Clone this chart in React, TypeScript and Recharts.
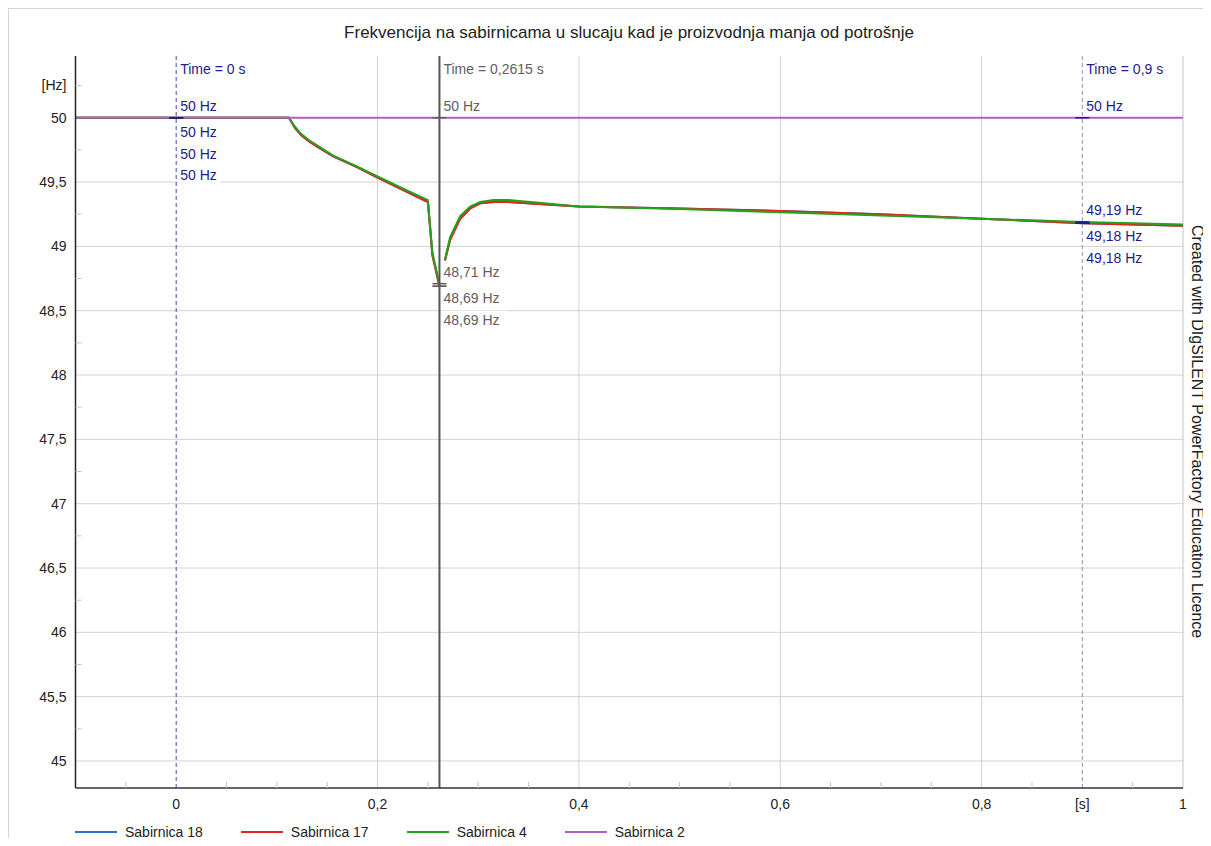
import React from 'react';
import { LineChart, Line, XAxis, YAxis, CartesianGrid, ReferenceLine, ReferenceDot } from 'recharts';

const title = 'Frekvencija na sabirnicama u slucaju kad je proizvodnja manja od potrošnje';
const watermark = 'Created with DIgSILENT PowerFactory Education Licence';

// simulation time [s]
const time = [
  -0.1, 0, 0.112, 0.118, 0.124, 0.132, 0.14, 0.156, 0.18, 0.2, 0.225, 0.25, 0.2545, 0.2615, 0.264,
  0.267, 0.272, 0.282, 0.292, 0.302, 0.315, 0.33, 0.36, 0.4, 0.5, 0.6, 0.7, 0.8, 0.9, 1.0,
];

// frequency [Hz], null = gap after the load step
const sab18 = [
  50, 50, 50, 49.92, 49.865, 49.815, 49.775, 49.7, 49.615, 49.535, 49.44, 49.345, 48.93, 48.69, null,
  48.89, 49.05, 49.215, 49.295, 49.335, 49.345, 49.345, 49.33, 49.31, 49.295, 49.275, 49.25, 49.215, 49.18, 49.16,
];
const sab17 = [
  50, 50, 50, 49.92, 49.865, 49.815, 49.775, 49.7, 49.615, 49.535, 49.44, 49.345, 48.93, 48.69, null,
  48.89, 49.05, 49.215, 49.295, 49.335, 49.345, 49.345, 49.33, 49.31, 49.295, 49.275, 49.25, 49.215, 49.18, 49.16,
];
const sab4 = [
  50, 50, 50, 49.93, 49.875, 49.825, 49.785, 49.705, 49.62, 49.545, 49.45, 49.36, 48.95, 48.71, null,
  48.9, 49.07, 49.235, 49.31, 49.345, 49.36, 49.36, 49.34, 49.31, 49.29, 49.265, 49.24, 49.215, 49.19, 49.17,
];
const sab2 = [
  50, 50, 50, 50, 50, 50, 50, 50, 50, 50, 50, 50, 50, 50, 50,
  50, 50, 50, 50, 50, 50, 50, 50, 50, 50, 50, 50, 50, 50, 50,
];

const seriesNames = ['Sabirnica 18', 'Sabirnica 17', 'Sabirnica 4', 'Sabirnica 2'];
const seriesColors = ['#2a72d6', '#e8231c', '#22a31c', '#b25ec8'];

const xTicks = [
  -0.05, 0, 0.05, 0.1, 0.15, 0.2, 0.25, 0.3, 0.35, 0.4, 0.45, 0.5, 0.55, 0.6, 0.65, 0.7, 0.75, 0.8, 0.85, 0.9, 0.95, 1,
];
const xLabels = [0, 0.2, 0.4, 0.6, 0.8, 1];
const xUnit = { value: 0.9, text: '[s]' };
const yTicks = [
  45, 45.25, 45.5, 45.75, 46, 46.25, 46.5, 46.75, 47, 47.25, 47.5, 47.75, 48, 48.25, 48.5, 48.75, 49, 49.25, 49.5,
  49.75, 50, 50.25,
];
const yLabels = [45, 45.5, 46, 46.5, 47, 47.5, 48, 48.5, 49, 49.5, 50];
const yUnit = { value: 50.25, text: '[Hz]' };
const gridX = [0.2, 0.4, 0.6, 0.8];
const gridY = [45, 45.5, 46, 46.5, 47, 47.5, 48, 48.5, 49, 49.5, 50];

// cursors: time and values (Sabirnica 18, 17, 4, 2)
const cursorTimes = [0, 0.2615, 0.9];
const cursorValues = [
  [50, 50, 50, 50],
  [48.69, 48.69, 48.71, 50],
  [49.18, 49.18, 49.19, 50],
];
const cursorColors = ['#1c1c8c', '#5e5e5e', '#1c1c8c'];
const cursorLineColors = ['#4848a8', '#555555', '#8c8cc8'];

const X_MIN = -0.1;
const X_MAX = 1;
const Y_MIN = 44.79;
const Y_MAX = 50.48;
const FONT = '"Liberation Sans", Arial, sans-serif';
const FS = 14;
const LABEL_OFFSETS = [-12, 14, 36, 57];

const rows = time.map((t, i) => ({
  t,
  s18: sab18[i],
  s17: sab17[i],
  s4: sab4[i],
  s2: sab2[i],
}));
const seriesKeys = ['s18', 's17', 's4', 's2'];

const fmtNum = (v: number) => String(v).replace('.', ',');
const fmtHz = (v: number) => (Number.isInteger(v) ? String(v) : v.toFixed(2).replace('.', ',')) + ' Hz';

function clusters(values: number[]) {
  const sorted = [...values].sort((a, b) => b - a);
  const groups: number[][] = [];
  sorted.forEach((v) => {
    const g = groups[groups.length - 1];
    if (g && g[0] - v < 0.1) g.push(v);
    else groups.push([v]);
  });
  return groups;
}

function XTick(props: any) {
  const { x, y, payload } = props;
  const v = payload.value;
  const axisY = y - 11;
  if (xLabels.includes(v) || v === xUnit.value) {
    return (
      <text x={x} y={y} dy="0.71em" textAnchor="middle" fontSize={FS} fill="#222" fontFamily={FONT}>
        {v === xUnit.value ? xUnit.text : fmtNum(v)}
      </text>
    );
  }
  return <line x1={x} x2={x} y1={axisY} y2={axisY - 6} stroke="#c4c4c4" />;
}

function YTick(props: any) {
  const { x, y, payload } = props;
  const v = payload.value;
  const axisX = x + 9;
  const label = v === yUnit.value ? yUnit.text : yLabels.includes(v) ? fmtNum(v) : null;
  return (
    <g>
      {!yLabels.includes(v) && <line x1={axisX} x2={axisX + 6} y1={y} y2={y} stroke="#c4c4c4" />}
      {label && (
        <text x={x} y={y} dy="0.35em" textAnchor="end" fontSize={FS} fill="#222" fontFamily={FONT}>
          {label}
        </text>
      )}
    </g>
  );
}

function boxedText(x: number, y: number, text: string, color: string, key?: React.Key) {
  const w = text.length * 7.7 + 4;
  return (
    <g key={key}>
      <rect x={x - 2} y={y - 9} width={w} height={18} fill="#fff" />
      <text x={x} y={y} dy="0.35em" fontSize={FS} fill={color} fontFamily={FONT}>
        {text}
      </text>
    </g>
  );
}

export default function App() {
  return (
    <div
      style={{
        position: 'relative',
        width: 1202,
        height: 829,
        borderTop: '1px solid #d4d4d4',
        borderLeft: '1px solid #d4d4d4',
        fontFamily: FONT,
        color: '#222',
      }}
    >
      <div
        style={{
          position: 'absolute',
          left: 66,
          top: 14,
          width: 1108,
          height: 20,
          lineHeight: '20px',
          textAlign: 'center',
          fontSize: 17,
        }}
      >
        {title}
      </div>

      <LineChart width={1201} height={820} data={rows} margin={{ top: 47, right: 27, bottom: 20, left: 0 }}>
        <CartesianGrid stroke="#d2d2d2" horizontalValues={gridY} verticalValues={gridX} />
        <XAxis
          dataKey="t"
          type="number"
          domain={[X_MIN, X_MAX]}
          ticks={xTicks}
          interval={0}
          allowDataOverflow
          height={21}
          tickSize={0}
          tickMargin={11}
          tickLine={false}
          axisLine={{ stroke: '#333', strokeWidth: 1.5 }}
          tick={<XTick />}
        />
        <YAxis
          type="number"
          domain={[Y_MIN, Y_MAX]}
          ticks={yTicks}
          interval={0}
          allowDataOverflow
          width={66.5}
          tickSize={0}
          tickMargin={9}
          tickLine={false}
          axisLine={{ stroke: '#222', strokeWidth: 1.5 }}
          tick={<YTick />}
        />
        <ReferenceLine x={X_MAX} stroke="#c4c4c4" />
        {seriesKeys.map((k, i) => (
          <Line
            key={k}
            dataKey={k}
            name={seriesNames[i]}
            stroke={seriesColors[i]}
            strokeWidth={2}
            dot={false}
            type="linear"
            isAnimationActive={false}
          />
        ))}
        {cursorTimes.map((t, c) => (
          <ReferenceLine
            key={'cl' + c}
            x={t}
            stroke={cursorLineColors[c]}
            strokeWidth={c === 1 ? 2 : 1}
            strokeDasharray={c === 1 ? undefined : '4 3'}
          />
        ))}
        {cursorTimes.map((t, c) =>
          cursorValues[c].map((v, i) => (
            <ReferenceDot
              key={'cm' + c + '-' + i}
              x={t}
              y={v}
              r={0}
              ifOverflow="visible"
              shape={(p: any) => (
                <line x1={p.cx - 7} x2={p.cx + 7} y1={p.cy} y2={p.cy} stroke={cursorColors[c]} strokeWidth={1.5} />
              )}
            />
          )),
        )}
        {cursorTimes.map((t, c) => (
          <ReferenceDot
            key={'ct' + c}
            x={t}
            y={Y_MAX}
            r={0}
            ifOverflow="visible"
            shape={(p: any) => boxedText(p.cx + 4, p.cy + 13, 'Time = ' + fmtNum(t) + ' s', cursorColors[c])}
          />
        ))}
        {cursorTimes.map((t, c) =>
          clusters(cursorValues[c]).map((g, gi) => (
            <ReferenceDot
              key={'cv' + c + '-' + gi}
              x={t}
              y={g[0]}
              r={0}
              ifOverflow="visible"
              shape={(p: any) => (
                <g>{g.map((v, i) => boxedText(p.cx + 4, p.cy + LABEL_OFFSETS[i], fmtHz(v), cursorColors[c], i))}</g>
              )}
            />
          )),
        )}
      </LineChart>

      <div
        style={{
          position: 'absolute',
          left: 1179,
          top: 216,
          writingMode: 'vertical-rl',
          fontSize: 16,
          lineHeight: '18px',
          whiteSpace: 'nowrap',
        }}
      >
        {watermark}
      </div>

      <div
        style={{
          position: 'absolute',
          left: 66,
          top: 815,
          height: 16,
          display: 'flex',
          alignItems: 'center',
          fontSize: FS,
          whiteSpace: 'nowrap',
        }}
      >
        {seriesNames.map((n, i) => (
          <div key={n} style={{ display: 'flex', alignItems: 'center', marginRight: 38 }}>
            <span style={{ display: 'inline-block', width: 42, height: 2, background: seriesColors[i], marginRight: 8 }} />
            <span>{n}</span>
          </div>
        ))}
      </div>
    </div>
  );
}
